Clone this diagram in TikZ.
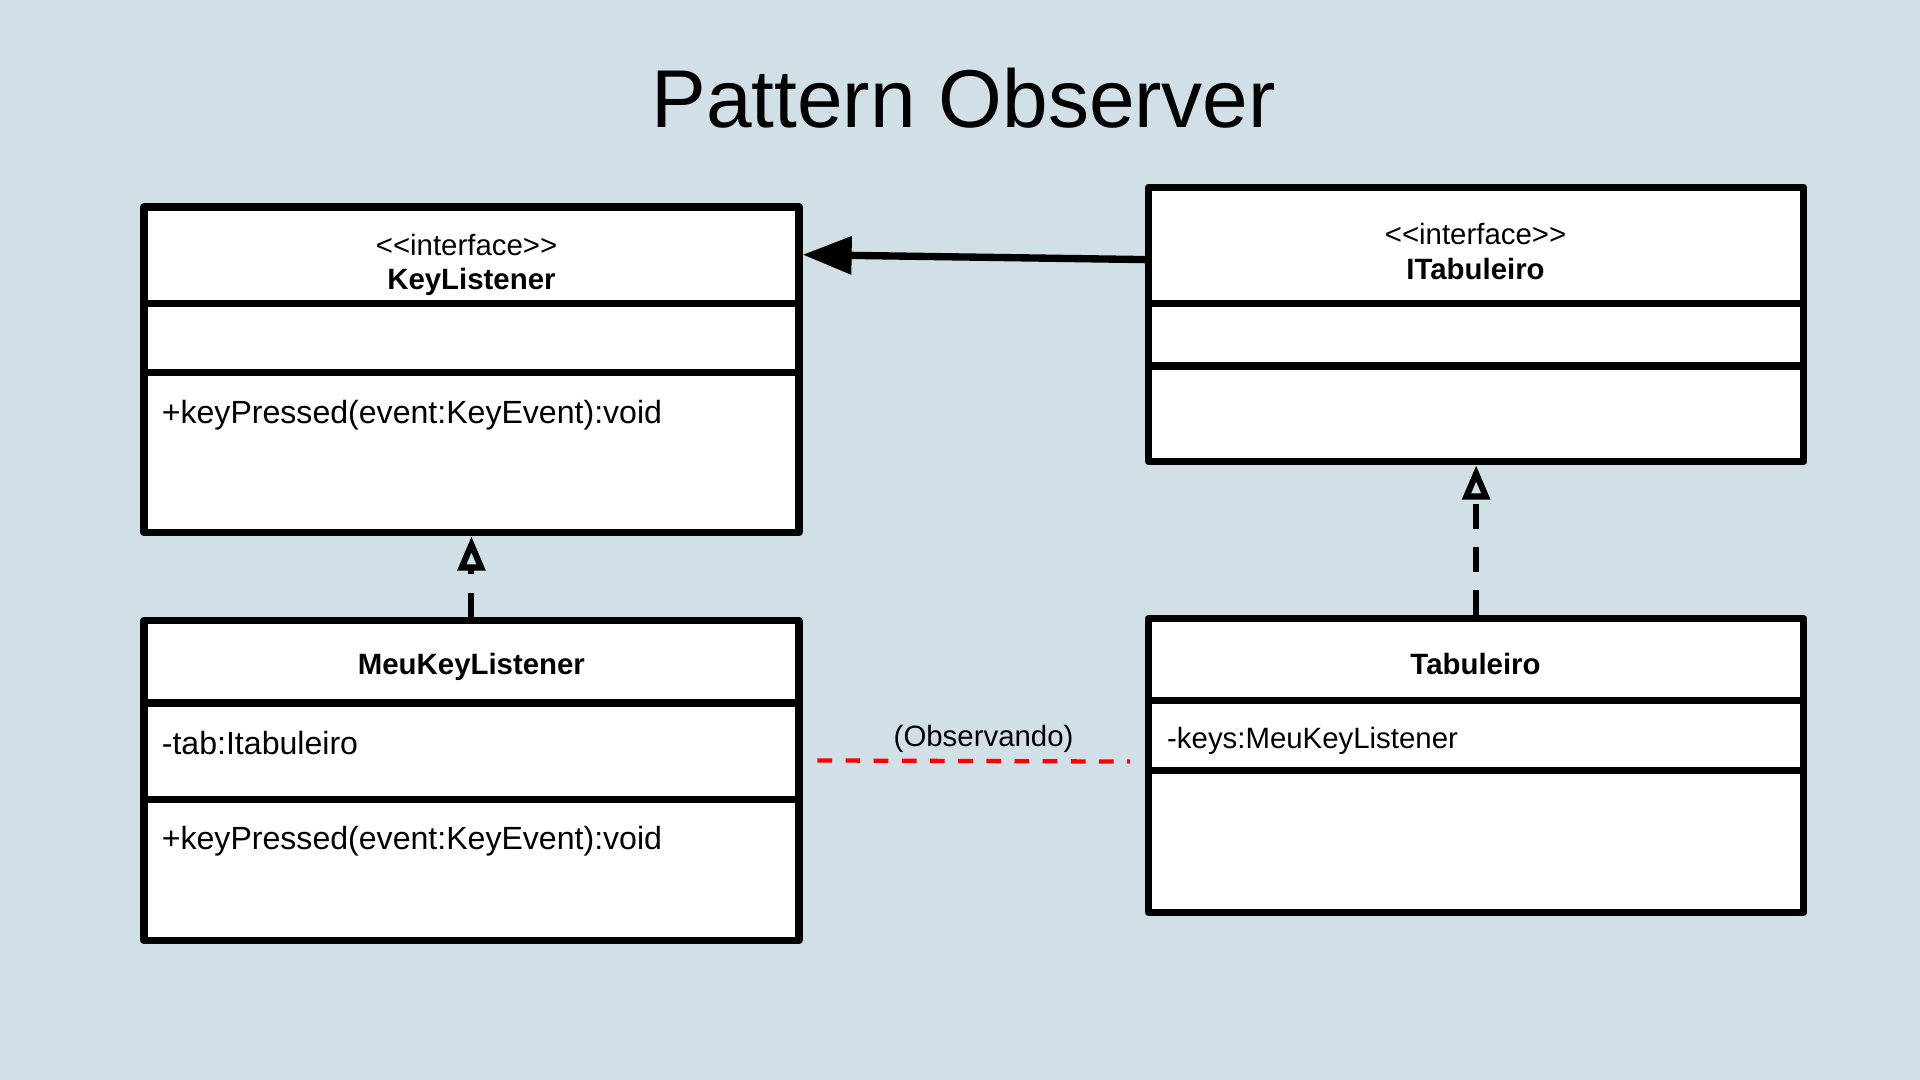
\documentclass[tikz,border=0pt]{standalone}
\usepackage{fontspec}
\setmainfont{Liberation Sans}
\usetikzlibrary{arrows.meta}
\definecolor{slidebg}{RGB}{209,224,230}

\begin{document}
\begin{tikzpicture}[x=1pt,y=-1pt] %% uml classes
	\tikzstyle{classbox}=[draw,fill=white,line width=6pt,line join=round,minimum width=535pt,inner sep=0pt]
	\tikzstyle{divider}=[line width=6pt]
	\tikzstyle{stereo}=[font=\fontsize{24}{29}\selectfont]
	\tikzstyle{classname}=[font=\fontsize{24}{29}\selectfont\bfseries]
	\tikzstyle{member}=[anchor=west,inner sep=0pt,font=\fontsize{26.2}{31}\selectfont]
	\tikzstyle{realize}=[line width=5pt,dash pattern=on 20pt off 15pt,-{Triangle[open,length=28pt,width=22pt]}]
	\tikzstyle{assoc}=[line width=6pt,-{Triangle[length=40pt,width=30pt]}]
	\tikzstyle{observe}=[red,line width=3.5pt,dash pattern=on 12pt off 11pt,shorten <=12pt,shorten >=12pt]
	\fill[slidebg] (0,0) rectangle (1568,882);
	\node[font=\fontsize{67}{80}\selectfont,anchor=base] (title) at (787,104) {Pattern Observer};
	% interfaces
	\node[classbox,minimum height=266pt] (keylistener) at (385,302) {};
	\draw[divider] (keylistener.west |- 0,248) -- (keylistener.east |- 0,248);
	\draw[divider] (keylistener.west |- 0,304) -- (keylistener.east |- 0,304);
	\node[stereo] (klstereo) at (381,200) {<\kern0pt<interface>\kern0pt>};
	\node[classname] (klname) at (385,230) {KeyListener};
	\node[member] (klop) at (132,339) {+keyPressed(event:KeyEvent):void};

	\node[classbox,minimum height=224pt] (itabuleiro) at (1205.5,265) {};
	\draw[divider] (itabuleiro.west |- 0,248) -- (itabuleiro.east |- 0,248);
	\draw[divider] (itabuleiro.west |- 0,299) -- (itabuleiro.east |- 0,299);
	\node[stereo] (itstereo) at (1205,191) {<\kern0pt<interface>\kern0pt>};
	\node[classname] (itname) at (1205,220) {ITabuleiro};
	% classes
	\node[classbox,minimum height=261pt] (meukeylistener) at (385,637.5) {};
	\draw[divider] (meukeylistener.west |- 0,574) -- (meukeylistener.east |- 0,574);
	\draw[divider] (meukeylistener.west |- 0,653) -- (meukeylistener.east |- 0,653);
	\node[classname] (mklname) at (385,545) {MeuKeyListener};
	\node[member] (mklattr) at (132,607) {-tab:Itabuleiro};
	\node[member] (mklop) at (132,687) {+keyPressed(event:KeyEvent):void};

	\node[classbox,minimum height=240pt] (tabuleiro) at (1205.5,625) {};
	\draw[divider] (tabuleiro.west |- 0,572) -- (tabuleiro.east |- 0,572);
	\draw[divider] (tabuleiro.west |- 0,629) -- (tabuleiro.east |- 0,629);
	\node[classname] (tabname) at (1205,542) {Tabuleiro};
	\node[member,font=\fontsize{24}{29}\selectfont] (tabattr) at (953,605) {-keys:MeuKeyListener};
	% connectors
	\draw[assoc] (itabuleiro.west |- 0,212) -- (keylistener.east |- 0,208);
	\draw[realize] (meukeylistener.north) -- (keylistener.south);
	\draw[realize] (tabuleiro.north) -- (itabuleiro.south);
	\draw[observe] (meukeylistener.east |- 0,621) -- node[midway,above=2pt,xshift=8pt,black,font=\fontsize{24}{29}\selectfont] (obslabel) {(Observando)} (tabuleiro.west |- 0,622);
\end{tikzpicture}
\end{document}
